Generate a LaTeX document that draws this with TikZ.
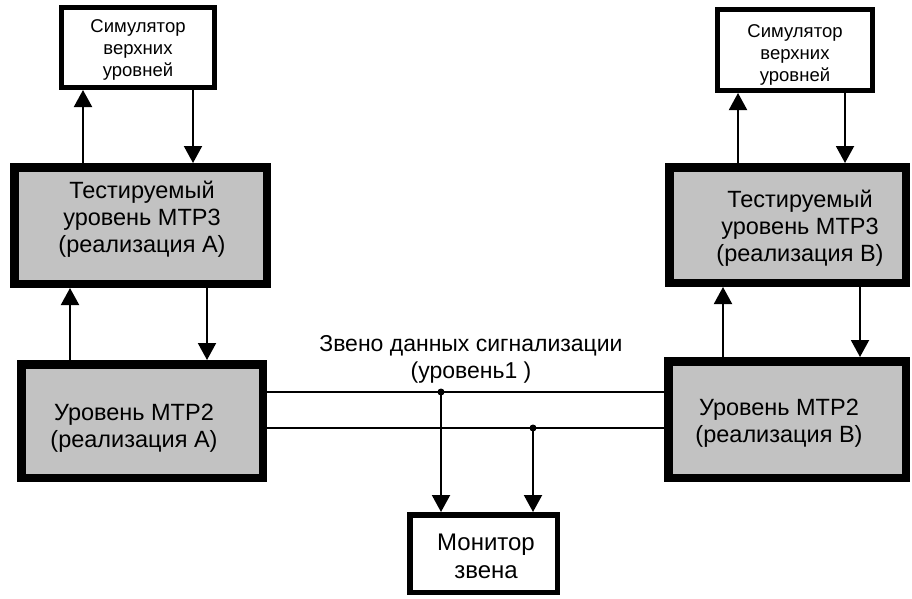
\documentclass[tikz,border=0pt]{standalone}
\usepackage{fontspec}
\setmainfont{Liberation Sans}
\usetikzlibrary{arrows.meta}
\definecolor{screen}{gray}{0.76}

\begin{document}
\begin{tikzpicture}[x=1pt,y=-1pt,
  unitbox/.style={rectangle, draw=black, line width=8.5pt, fill=screen, inner sep=0pt},
  simbox/.style={rectangle, draw=black, line width=5pt, fill=white, inner sep=0pt},
  monbox/.style={rectangle, draw=black, line width=5.5pt, fill=white, inner sep=0pt},
  simtext/.style={font=\fontsize{18.5}{22}\selectfont, align=center, inner sep=0pt},
  unittext/.style={font=\fontsize{23.5}{27}\selectfont, align=center, inner sep=0pt},
  arr/.style={line width=2pt, -{Triangle[length=17pt,width=18pt]}},
  wire/.style={line width=2pt},
  dot/.style={circle, fill=black, inner sep=0pt, minimum size=7pt}]

\useasboundingbox (0,0) rectangle (912,598);

% upper-layer simulators
\node[simbox, minimum width=153pt, minimum height=80pt] (simA) at (138,47.5) {};
\node[simtext] (simAt) at (138,50) {Симулятор\\верхних\\уровней};
\node[simbox, minimum width=155pt, minimum height=81pt] (simB) at (795,50) {};
\node[simtext] (simBt) at (795,55) {Симулятор\\верхних\\уровней};

% MTP3 under test
\node[unitbox, minimum width=252.5pt, minimum height=116.5pt] (mtp3A) at (140.5,225.5) {};
\node[unittext] (mtp3At) at (142,219) {Тестируемый\\уровень МТР3\\(реализация А)};
\node[unitbox, minimum width=236.5pt, minimum height=115.5pt] (mtp3B) at (787.5,225) {};
\node[unittext] (mtp3Bt) at (800,228) {Тестируемый\\уровень МТР3\\(реализация В)};

% MTP2
\node[unitbox, minimum width=241.5pt, minimum height=113.5pt] (mtp2A) at (142,421) {};
\node[unittext] (mtp2At) at (134,428) {Уровень МТР2\\(реализация А)};
\node[unitbox, minimum width=237.5pt, minimum height=116.5pt] (mtp2B) at (787,419.5) {};
\node[unittext] (mtp2Bt) at (779,423) {Уровень МТР2\\(реализация В)};

% link monitor
\node[monbox, minimum width=147.5pt, minimum height=77.5pt] (mon) at (483.5,553.5) {};
\node[font=\fontsize{24}{28}\selectfont, align=center, inner sep=0pt] (mont) at (486,556) {Монитор\\звена};

% signalling data link label
\node[font=\fontsize{23}{27}\selectfont, align=center, inner sep=0pt] (link) at (471,359) {Звено данных сигнализации\\(уровень1 )};

% arrow columns
\coordinate (aA1) at (83,0);
\coordinate (aA2) at (193,0);
\coordinate (aA3) at (70,0);
\coordinate (aA4) at (207,0);
\coordinate (aB1) at (738,0);
\coordinate (aB2) at (845,0);
\coordinate (aB3) at (723,0);
\coordinate (aB4) at (860,0);

\draw[arr] (mtp3A.north -| aA1) -- (simA.south -| aA1);
\draw[arr] (simA.south -| aA2) -- (mtp3A.north -| aA2);
\draw[arr] (mtp2A.north -| aA3) -- (mtp3A.south -| aA3);
\draw[arr] (mtp3A.south -| aA4) -- (mtp2A.north -| aA4);

\draw[arr] (mtp3B.north -| aB1) -- (simB.south -| aB1);
\draw[arr] (simB.south -| aB2) -- (mtp3B.north -| aB2);
\draw[arr] (mtp2B.north -| aB3) -- (mtp3B.south -| aB3);
\draw[arr] (mtp3B.south -| aB4) -- (mtp2B.north -| aB4);

% the two wires of the link and the monitor taps
\coordinate (w1) at (0,392);
\coordinate (w2) at (0,428);
\draw[wire] (mtp2A.east |- w1) -- (mtp2B.west |- w1);
\draw[wire] (mtp2A.east |- w2) -- (mtp2B.west |- w2);
\node[dot] (t1) at (441,392) {};
\node[dot] (t2) at (533,428) {};
\draw[arr] (t1.center) -- (mon.north -| t1);
\draw[arr] (t2.center) -- (mon.north -| t2);
\end{tikzpicture}
\end{document}
